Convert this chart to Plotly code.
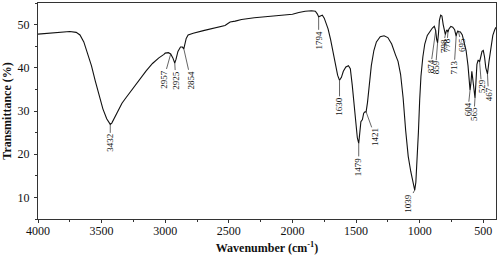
import numpy as np
import plotly.graph_objects as go

# Spectrum
wavenumber = [4000, 3900, 3800, 3750, 3700, 3670, 3640, 3610, 3580, 3550, 3520, 3490, 3460, 3440, 3432,
              3420, 3400, 3370, 3340, 3310, 3290, 3260, 3200, 3150, 3100, 3050, 3010, 3000, 2975, 2957,
              2940, 2925, 2915, 2900, 2880, 2865, 2854, 2845, 2835, 2820, 2780, 2700, 2600, 2530, 2510,
              2490, 2450, 2400, 2300, 2200, 2100, 2000, 1950, 1900, 1850, 1820, 1805, 1794, 1780, 1765,
              1750, 1720, 1700, 1680, 1660, 1645, 1630, 1615, 1600, 1580, 1560, 1545, 1530, 1515, 1500,
              1490, 1479, 1470, 1462, 1450, 1440, 1430, 1421, 1410, 1395, 1380, 1360, 1340, 1310, 1280,
              1250, 1220, 1190, 1170, 1150, 1130, 1110, 1090, 1070, 1055, 1045, 1039, 1030, 1020, 1010,
              1000, 990, 975, 960, 940, 920, 900, 885, 874, 866, 859, 852, 845, 835, 825,
              815, 805, 798, 790, 784, 778, 770, 755, 740, 725, 718, 713, 708, 700, 695,
              680, 665, 650, 635, 620, 610, 604, 597, 590, 585, 575, 565, 558, 550, 540,
              529, 520, 510, 500, 490, 480, 467, 455, 440, 425, 410, 400]
transmittance = [47.8, 48.0, 48.3, 48.4, 48.2, 47.6, 46.0, 43.5, 40.5, 37.0, 33.5, 30.5, 28.2, 27.1, 26.9,
                 27.2, 28.3, 30.0, 31.8, 33.0, 33.8, 35.0, 37.4, 39.3, 41.0, 42.3, 43.1, 43.4, 43.5, 43.2,
                 42.3, 41.1, 42.0, 43.8, 44.8, 44.8, 44.4, 45.3, 46.8, 47.6, 48.0, 48.6, 49.3, 49.8, 50.2,
                 50.6, 50.8, 51.2, 51.6, 51.9, 52.1, 52.4, 52.8, 53.1, 53.2, 53.1, 52.5, 51.8, 52.0, 52.2,
                 51.5, 49.0, 46.5, 43.5, 40.5, 38.3, 37.1, 37.8, 39.2, 40.2, 40.5, 39.8, 36.0, 31.0, 26.5,
                 23.8, 22.5, 25.5, 27.5, 28.0, 29.5, 29.8, 29.8, 32.0, 36.5, 40.5, 44.0, 46.0, 47.2, 47.4,
                 47.0, 45.5, 43.0, 41.5, 38.5, 33.0, 25.5, 19.5, 16.0, 13.8, 12.2, 11.7, 13.5, 18.5, 25.0,
                 32.5, 38.0, 42.5, 45.5, 47.5, 48.5, 49.2, 49.6, 48.6, 46.5, 45.8, 48.0, 51.0, 52.2, 52.0,
                 50.0, 48.3, 47.7, 48.6, 48.8, 48.2, 49.0, 49.6, 49.4, 48.8, 47.8, 47.3, 48.0, 48.5, 48.4,
                 48.3, 47.6, 46.0, 44.0, 40.5, 36.5, 34.8, 36.5, 39.2, 38.0, 35.0, 33.0, 36.5, 40.8, 41.8,
                 41.4, 42.5, 43.8, 44.0, 42.5, 40.0, 38.6, 41.5, 45.0, 47.5, 48.8, 49.4]

# Peak labels
peak_labels = [3432, 2957, 2925, 2854, 1794, 1630, 1479, 1421, 1039, 874, 859, 798, 778, 713, 695,
               604, 565, 529, 467]

# label offsets (pixels) from curve point to label centre
label_offsets = {
    3432: (0, 18), 2957: (-7, 25), 2925: (1, 17), 2854: (7, 31), 1794: (0, 23),
    1630: (0, 26), 1479: (0, 23), 1421: (9, 25), 1039: (-7, 13), 874: (-5, 36),
    859: (-2, 25), 798: (-2, 11), 778: (-1, 13), 713: (-2, 31), 695: (3, 13),
    604: (-2, 19), 565: (-1, 16), 529: (2, 25), 467: (1, 20),
}

wn = np.array(wavenumber)[::-1]
tr = np.array(transmittance)[::-1]

fig = go.Figure()
fig.add_trace(go.Scatter(x=wavenumber, y=transmittance, mode="lines",
                         line=dict(color="#111111", width=1.1), showlegend=False,
                         hoverinfo="skip"))

font_fam = "Liberation Serif, Times New Roman, serif"
for p in peak_labels:
    yv = float(np.interp(p, wn, tr))
    ax, ay = label_offsets[p]
    fig.add_annotation(x=p, y=yv, text=str(p), textangle=-90, showarrow=True,
                       arrowhead=0, arrowwidth=0.7, arrowcolor="#222222",
                       ax=ax, ay=ay, standoff=0, borderpad=0,
                       font=dict(family=font_fam, size=9, color="#111111"))

fig.update_layout(
    width=498, height=255,
    margin=dict(l=38, r=2, t=3, b=36),
    paper_bgcolor="white", plot_bgcolor="white",
    font=dict(family=font_fam, size=12, color="#111111"),
    xaxis=dict(range=[4000, 400], tickmode="linear", tick0=0, dtick=500,
               ticks="outside", ticklen=3, tickwidth=1, tickcolor="#333333",
               minor=dict(ticks="outside", ticklen=2, dtick=250, tick0=0, tickcolor="#333333"),
               showline=True, linecolor="#333333", linewidth=1, mirror=True,
               showgrid=False, zeroline=False, ticklabelstandoff=-2,
               title=dict(text="<b>Wavenumber (cm<sup>-1</sup>)</b>", standoff=6,
                          font=dict(size=12))),
    yaxis=dict(range=[5, 55], tickmode="linear", tick0=0, dtick=10,
               ticks="outside", ticklen=3, tickwidth=1, tickcolor="#333333",
               minor=dict(ticks="outside", ticklen=2, dtick=5, tick0=0, tickcolor="#333333"),
               showline=True, linecolor="#333333", linewidth=1, mirror=True,
               showgrid=False, zeroline=False, ticklabelstandoff=2,
               title=dict(text="<b>Transmittance (%)</b>", standoff=4,
                          font=dict(size=12))),
)

fig.write_html("out.html", config={"displayModeBar": False},
               post_script="document.body.style.margin='0';document.body.style.overflow='hidden';")
